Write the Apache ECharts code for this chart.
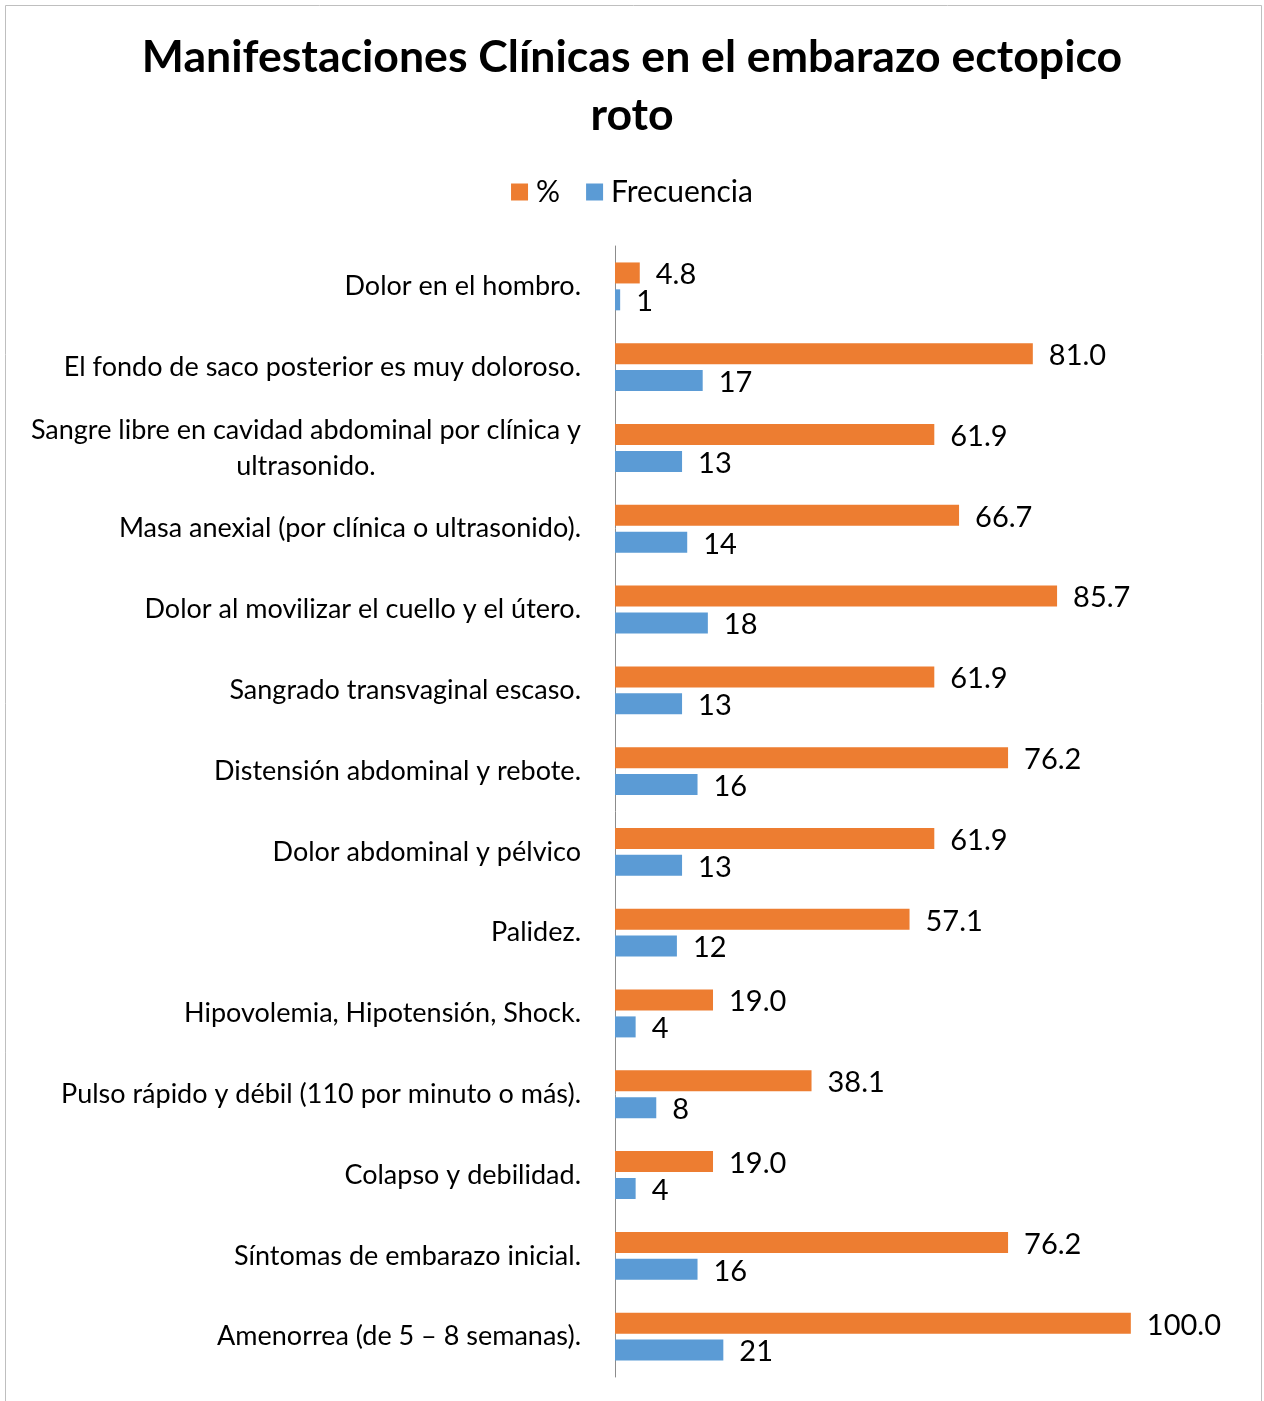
<!DOCTYPE html>
<html>
<head>
<meta charset="utf-8">
<script src="https://cdn.jsdelivr.net/npm/echarts@6/dist/echarts.min.js"></script>
<style>
  html, body { margin: 0; padding: 0; background: #fff; }
  #chart { width: 1264px; height: 1401px; }
</style>
</head>
<body>
<div id="chart"></div>
<script>
const categories = [
  'Dolor en el hombro.',
  'El fondo de saco posterior es muy doloroso.',
  'Sangre libre en cavidad abdominal por clínica y\nultrasonido.',
  'Masa anexial (por clínica o ultrasonido).',
  'Dolor al movilizar el cuello y el útero.',
  'Sangrado transvaginal escaso.',
  'Distensión abdominal y rebote.',
  'Dolor abdominal y pélvico',
  'Palidez.',
  'Hipovolemia, Hipotensión, Shock.',
  'Pulso rápido y débil (110 por minuto o más).',
  'Colapso y debilidad.',
  'Síntomas de embarazo inicial.',
  'Amenorrea (de 5 – 8 semanas).'
];
const percentValues = [4.8, 81.0, 61.9, 66.7, 85.7, 61.9, 76.2, 61.9, 57.1, 19.0, 38.1, 19.0, 76.2, 100.0];
const frequencyValues = [1, 17, 13, 14, 18, 13, 16, 13, 12, 4, 8, 4, 16, 21];
const seriesNames = ['%', 'Frecuencia'];

const FONT = 'Lato';
const labelSize = 27;

// measure widest line of multi-line labels for centered wrapping
const cv = document.createElement('canvas').getContext('2d');
cv.font = labelSize + 'px ' + FONT;

const rich = { c: { align: 'center', fontSize: labelSize, fontFamily: FONT, color: '#000', lineHeight: 36 } };
function catFormatter(v) {
  if (v.indexOf('\n') < 0) return v;
  const lines = v.split('\n');
  const w = Math.max.apply(null, lines.map(l => cv.measureText(l).width));
  rich.c.width = Math.ceil(w);
  return lines.map(l => '{c|' + l + '}').join('\n');
}

const chart = echarts.init(document.getElementById('chart'), null, { renderer: 'canvas' });
chart.setOption({
  backgroundColor: '#fff',
  animation: false,
  title: {
    text: 'Manifestaciones Clínicas en el embarazo ectopico\nroto',
    left: 'center',
    top: 24,
    textStyle: { fontFamily: FONT, fontWeight: 'bold', fontSize: 44.6, lineHeight: 58, color: '#000' }
  },
  legend: {
    data: seriesNames,
    top: 172,
    left: 'center',
    itemWidth: 17,
    itemHeight: 17,
    itemGap: 26,
    icon: 'rect',
    textStyle: { fontFamily: FONT, fontSize: 30, color: '#000', padding: [0, 0, 0, 3] }
  },
  graphic: [{
    type: 'rect',
    shape: { x: 5.5, y: 5.5, width: 1256, height: 1410 },
    style: { fill: null, stroke: '#bfbfbf', lineWidth: 1 },
    silent: true
  }],
  grid: { left: 615, top: 246, width: 619, height: 1131, containLabel: false },
  xAxis: {
    type: 'value', min: 0, max: 120, show: false
  },
  yAxis: {
    type: 'category',
    inverse: true,
    data: categories,
    axisLine: { show: true, lineStyle: { color: '#8c8c8c', width: 1 } },
    axisTick: { show: false },
    axisLabel: {
      margin: 34,
      fontFamily: FONT,
      fontSize: labelSize,
      color: '#000',
      lineHeight: 36,
      formatter: catFormatter,
      rich: rich
    }
  },
  series: [
    {
      name: '%',
      type: 'bar',
      data: percentValues,
      barWidth: 21,
      barGap: '28%',
      itemStyle: { color: '#ED7D31' },
      label: {
        show: true, position: 'right', distance: 16, offset: [0, 2],
        fontFamily: FONT, fontSize: 29, color: '#000',
        formatter: p => p.value.toFixed(1)
      }
    },
    {
      name: 'Frecuencia',
      type: 'bar',
      data: frequencyValues,
      barWidth: 21,
      itemStyle: { color: '#5B9BD5' },
      label: {
        show: true, position: 'right', distance: 16, offset: [0, 2],
        fontFamily: FONT, fontSize: 29, color: '#000',
        formatter: p => String(p.value)
      }
    }
  ]
});
</script>
</body>
</html>
